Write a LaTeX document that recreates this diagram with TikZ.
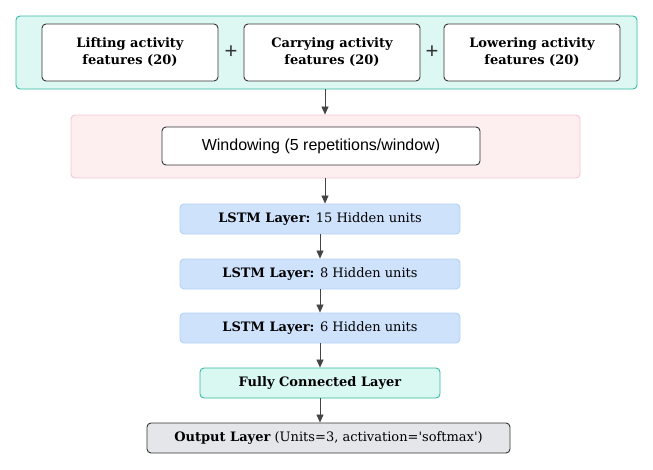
\documentclass[tikz,border=0pt]{standalone}
\usepackage{fontspec}
\setmainfont{DejaVu Serif}
\newfontfamily\winfont{Liberation Sans}
\usetikzlibrary{arrows.meta}
\definecolor{tealfill}{HTML}{DDF8F2}
\definecolor{tealdraw}{HTML}{34BBA5}
\definecolor{pinkfill}{HTML}{FDEFF0}
\definecolor{pinkdraw}{HTML}{F6C6D2}
\definecolor{bluefill}{HTML}{CFE2FC}
\definecolor{bluedraw}{HTML}{B5D2F6}
\definecolor{fcfill}{HTML}{D8F8F1}
\definecolor{grayfill}{HTML}{E5E6EA}
\definecolor{darkline}{HTML}{333333}
\definecolor{arrowc}{HTML}{444444}
\tikzset{
  x=1pt,y=-1pt,
  box/.style={rounded corners=4pt,line width=0.9pt},
  featbox/.style={box,draw=darkline,fill=white,align=center,font=\fontsize{13}{17}\selectfont\bfseries},
  lstmbox/.style={box,draw=bluedraw,fill=bluefill,font=\fontsize{13}{15}\selectfont},
  conn/.style={draw=arrowc,line width=0.7pt,-{Triangle[length=8pt,width=7pt]}},
}
\begin{document}
\begin{tikzpicture}
\useasboundingbox (0,0) rectangle (653,469);
% top group
\node[box,draw=tealdraw,fill=tealfill,minimum width=621pt,minimum height=73pt] (group) at (326.5,52.5) {};
\node[featbox,minimum width=176pt,minimum height=57pt] (lift) at (130,52.5) {Lifting activity\\features (20)};
\node[featbox,minimum width=176pt,minimum height=57pt] (carry) at (332,52.5) {Carrying activity\\features (20)};
\node[featbox,minimum width=176pt,minimum height=57pt] (lower) at (532,52.5) {Lowering activity\\features (20)};
\node[font=\fontsize{22}{22}\selectfont\winfont,text=darkline] (p1) at (231,52.5) {+};
\node[font=\fontsize{22}{22}\selectfont\winfont,text=darkline] (p2) at (432,52.5) {+};
% windowing
\node[box,draw=pinkdraw,fill=pinkfill,minimum width=509pt,minimum height=63pt] (winbg) at (325.5,146.5) {};
\node[box,draw=darkline,fill=white,minimum width=318pt,minimum height=38pt,font=\winfont\fontsize{16}{18}\selectfont] (win) at (321,146) {Windowing (5 repetitions/window)};
% LSTM layers
\node[lstmbox,minimum width=280pt,minimum height=30pt] (l1) at (320,219) {\textbf{LSTM Layer:} 15 Hidden units};
\node[lstmbox,minimum width=280pt,minimum height=30pt] (l2) at (320,274) {\textbf{LSTM Layer:} 8 Hidden units};
\node[lstmbox,minimum width=280pt,minimum height=30pt] (l3) at (320,328) {\textbf{LSTM Layer:} 6 Hidden units};
\node[box,draw=tealdraw,fill=fcfill,minimum width=240pt,minimum height=30pt,font=\fontsize{13}{15}\selectfont\bfseries] (fc) at (320,383) {Fully Connected Layer};
\node[box,draw=darkline,fill=grayfill,minimum width=363pt,minimum height=30pt,font=\fontsize{13}{15}\selectfont] (out) at (328.5,438) {\textbf{Output Layer} (Units=3, activation=\textquotesingle softmax\textquotesingle)};
% connectors
\draw[conn] (group.south -| 325,0) -- (winbg.north -| 325,0);
\draw[conn] (winbg.south -| 325,0) -- (l1.north -| 325,0);
\draw[conn] (l1) -- (l2);
\draw[conn] (l2) -- (l3);
\draw[conn] (l3) -- (fc);
\draw[conn] (fc.south) -- (fc.south |- out.north);
\end{tikzpicture}
\end{document}
